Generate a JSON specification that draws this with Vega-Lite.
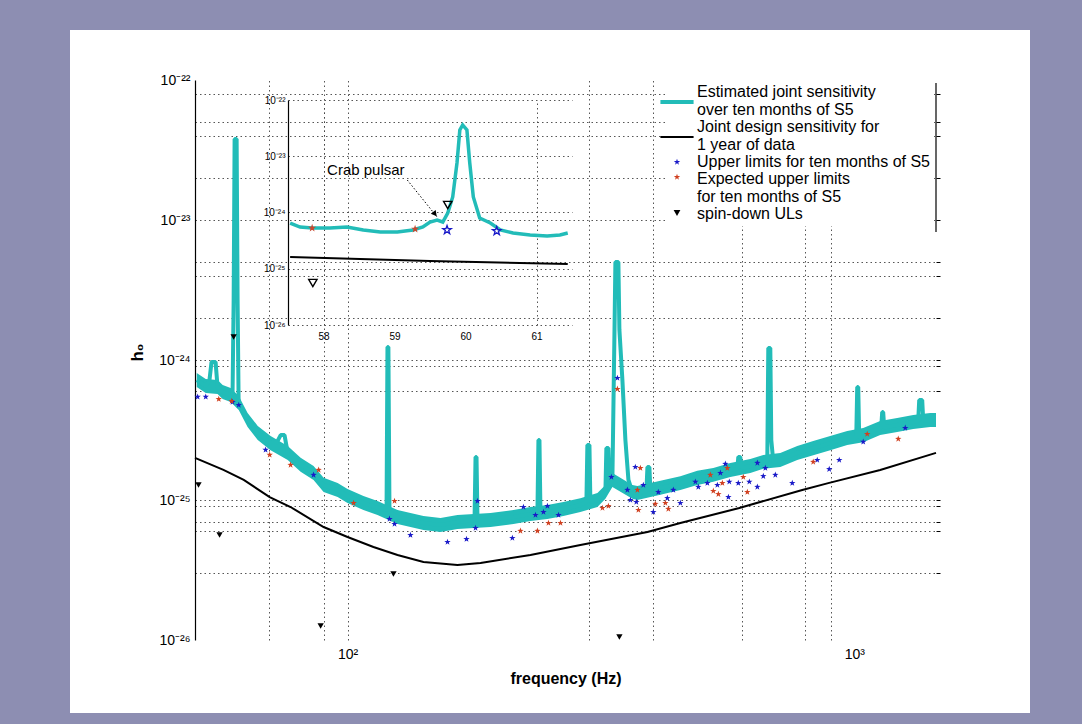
{
  "$schema": "https://vega.github.io/schema/vega-lite/v6.json",
  "width": 960,
  "height": 683,
  "autosize": {"type": "none"},
  "padding": {"left": 70, "top": 30, "right": 52, "bottom": 11},
  "background": "#8d8eb2",
  "config": {
    "view": {"fill": "white", "stroke": null},
    "font": "Liberation Sans",
    "axis": {"labelFont": "Liberation Sans", "titleFont": "Liberation Sans", "labelColor": "#000", "titleColor": "#000", "domainColor": "#000", "tickColor": "#000", "gridColor": "#444", "gridDash": [1.5, 3], "gridWidth": 1},
    "legend": {"labelFont": "Liberation Sans"}
  },
  "datasets": {
    "band": [
      {"f": 50.4, "lo": 6.42e-25, "hi": 8.08e-25},
      {"f": 52.5, "lo": 5.81e-25, "hi": 7.32e-25},
      {"f": 55.4, "lo": 5.71e-25, "hi": 7.19e-25},
      {"f": 56.7, "lo": 5.27e-25, "hi": 6.63e-25},
      {"f": 58.8, "lo": 5.01e-25, "hi": 6.31e-25},
      {"f": 61.0, "lo": 4.39e-25, "hi": 5.53e-25},
      {"f": 63.5, "lo": 3.32e-25, "hi": 4.19e-25},
      {"f": 66.5, "lo": 2.68e-25, "hi": 3.38e-25},
      {"f": 70.5, "lo": 2.27e-25, "hi": 2.86e-25},
      {"f": 76.2, "lo": 1.93e-25, "hi": 2.43e-25},
      {"f": 80.8, "lo": 1.59e-25, "hi": 2.0e-25},
      {"f": 85.7, "lo": 1.39e-25, "hi": 1.75e-25},
      {"f": 89.7, "lo": 1.14e-25, "hi": 1.44e-25},
      {"f": 95.6, "lo": 1.05e-25, "hi": 1.32e-25},
      {"f": 100, "lo": 9.53e-26, "hi": 1.2e-25},
      {"f": 107.5, "lo": 8.48e-26, "hi": 1.07e-25},
      {"f": 114.6, "lo": 7.81e-26, "hi": 9.84e-26},
      {"f": 125.5, "lo": 6.74e-26, "hi": 8.48e-26},
      {"f": 133.1, "lo": 6.42e-26, "hi": 8.08e-26},
      {"f": 141.2, "lo": 6.1e-26, "hi": 7.69e-26},
      {"f": 152.6, "lo": 5.91e-26, "hi": 7.44e-26},
      {"f": 164.8, "lo": 6.21e-26, "hi": 7.82e-26},
      {"f": 191.5, "lo": 6.42e-26, "hi": 8.08e-26},
      {"f": 212.6, "lo": 6.74e-26, "hi": 8.48e-26},
      {"f": 229.6, "lo": 7.08e-26, "hi": 8.91e-26},
      {"f": 248.0, "lo": 7.32e-26, "hi": 9.21e-26},
      {"f": 266.7, "lo": 7.69e-26, "hi": 9.68e-26},
      {"f": 288.1, "lo": 8.21e-26, "hi": 1.03e-25},
      {"f": 311.3, "lo": 8.91e-26, "hi": 1.12e-25},
      {"f": 322.8, "lo": 1.02e-25, "hi": 1.28e-25},
      {"f": 333.2, "lo": 1.24e-25, "hi": 1.56e-25},
      {"f": 364.9, "lo": 1.02e-25, "hi": 1.28e-25},
      {"f": 373.3, "lo": 9.98e-26, "hi": 1.26e-25},
      {"f": 414.4, "lo": 1.09e-25, "hi": 1.37e-25},
      {"f": 453.8, "lo": 1.18e-25, "hi": 1.48e-25},
      {"f": 490.1, "lo": 1.28e-25, "hi": 1.62e-25},
      {"f": 527.1, "lo": 1.35e-25, "hi": 1.69e-25},
      {"f": 569.4, "lo": 1.46e-25, "hi": 1.84e-25},
      {"f": 623.6, "lo": 1.56e-25, "hi": 1.96e-25},
      {"f": 661.5, "lo": 1.67e-25, "hi": 2.1e-25},
      {"f": 714.6, "lo": 1.72e-25, "hi": 2.17e-25},
      {"f": 771.9, "lo": 1.93e-25, "hi": 2.43e-25},
      {"f": 830.0, "lo": 2.09e-25, "hi": 2.64e-25},
      {"f": 896.6, "lo": 2.27e-25, "hi": 2.86e-25},
      {"f": 968.7, "lo": 2.47e-25, "hi": 3.11e-25},
      {"f": 1041.7, "lo": 2.59e-25, "hi": 3.27e-25},
      {"f": 1125.2, "lo": 2.91e-25, "hi": 3.67e-25},
      {"f": 1215.5, "lo": 3.06e-25, "hi": 3.85e-25},
      {"f": 1307.4, "lo": 3.22e-25, "hi": 4.05e-25},
      {"f": 1412.3, "lo": 3.32e-25, "hi": 4.19e-25},
      {"f": 1450, "lo": 3.32e-25, "hi": 4.19e-25}
    ],
    "est": [
      {"f": 50.4, "h": 7.2e-25}, {"f": 52.5, "h": 6.52e-25}, {"f": 53.4, "h": 7.2e-25}, {"f": 53.9, "h": 9.68e-25},
      {"f": 54.9, "h": 9.68e-25}, {"f": 55.4, "h": 6.41e-25}, {"f": 56.7, "h": 5.91e-25}, {"f": 58.8, "h": 5.62e-25},
      {"f": 59.3, "h": 5.62e-25}, {"f": 59.6, "h": 2.68e-24}, {"f": 59.86, "h": 3.79e-23}, {"f": 60.41, "h": 3.79e-23},
      {"f": 60.68, "h": 2.68e-24}, {"f": 60.96, "h": 4.93e-25}, {"f": 63.5, "h": 3.73e-25}, {"f": 66.5, "h": 3.01e-25},
      {"f": 70.5, "h": 2.55e-25}, {"f": 72.4, "h": 2.55e-25}, {"f": 73.8, "h": 2.91e-25}, {"f": 75.1, "h": 2.91e-25},
      {"f": 76.2, "h": 2.17e-25}, {"f": 80.8, "h": 1.78e-25}, {"f": 85.7, "h": 1.56e-25}, {"f": 89.7, "h": 1.28e-25},
      {"f": 95.6, "h": 1.18e-25}, {"f": 100, "h": 1.07e-25}, {"f": 107.5, "h": 9.52e-26}, {"f": 114.6, "h": 8.77e-26},
      {"f": 119.4, "h": 8.48e-26}, {"f": 119.9, "h": 1.24e-24}, {"f": 120.4, "h": 1.24e-24}, {"f": 121.0, "h": 8.21e-26},
      {"f": 125.5, "h": 7.56e-26}, {"f": 133.1, "h": 7.2e-26}, {"f": 141.2, "h": 6.85e-26}, {"f": 152.6, "h": 6.63e-26},
      {"f": 164.8, "h": 6.97e-26}, {"f": 178.1, "h": 7.2e-26}, {"f": 178.9, "h": 2.03e-25}, {"f": 179.7, "h": 2.03e-25},
      {"f": 180.5, "h": 7.2e-26}, {"f": 191.5, "h": 7.2e-26}, {"f": 200.4, "h": 7.44e-26}, {"f": 212.6, "h": 7.56e-26},
      {"f": 229.6, "h": 7.94e-26}, {"f": 237.0, "h": 7.94e-26}, {"f": 238.1, "h": 2.68e-25}, {"f": 239.2, "h": 2.68e-25},
      {"f": 240.3, "h": 8.08e-26}, {"f": 248.0, "h": 8.21e-26}, {"f": 266.7, "h": 8.63e-26}, {"f": 288.1, "h": 9.21e-26},
      {"f": 296.1, "h": 9.68e-26}, {"f": 297.4, "h": 2.47e-25}, {"f": 300.2, "h": 2.47e-25}, {"f": 301.5, "h": 9.68e-26},
      {"f": 311.3, "h": 1.0e-25}, {"f": 322.8, "h": 1.14e-25}, {"f": 324.2, "h": 2.35e-25}, {"f": 327.2, "h": 2.35e-25},
      {"f": 328.7, "h": 1.28e-25}, {"f": 333.2, "h": 1.39e-25}, {"f": 336.2, "h": 1.39e-24}, {"f": 337.8, "h": 5.01e-24},
      {"f": 342.4, "h": 5.01e-24}, {"f": 344.0, "h": 1.64e-24}, {"f": 348.7, "h": 7.2e-25}, {"f": 353.5, "h": 2.68e-25},
      {"f": 358.4, "h": 1.39e-25}, {"f": 364.9, "h": 1.14e-25}, {"f": 373.3, "h": 1.12e-25}, {"f": 388.9, "h": 1.16e-25},
      {"f": 390.7, "h": 1.72e-25}, {"f": 394.2, "h": 1.72e-25}, {"f": 396.0, "h": 1.18e-25}, {"f": 414.4, "h": 1.22e-25},
      {"f": 453.8, "h": 1.32e-25}, {"f": 490.1, "h": 1.44e-25}, {"f": 527.1, "h": 1.51e-25}, {"f": 569.4, "h": 1.64e-25},
      {"f": 587.8, "h": 1.67e-25}, {"f": 590.5, "h": 2.03e-25}, {"f": 595.9, "h": 2.03e-25}, {"f": 598.6, "h": 1.69e-25},
      {"f": 623.6, "h": 1.75e-25}, {"f": 661.5, "h": 1.87e-25}, {"f": 673.6, "h": 1.9e-25}, {"f": 676.7, "h": 1.22e-24},
      {"f": 682.9, "h": 1.22e-24}, {"f": 686.0, "h": 2.68e-25}, {"f": 692.3, "h": 1.87e-25}, {"f": 714.6, "h": 1.93e-25},
      {"f": 771.9, "h": 2.17e-25}, {"f": 830.0, "h": 2.35e-25}, {"f": 896.6, "h": 2.55e-25}, {"f": 968.7, "h": 2.77e-25},
      {"f": 1009.1, "h": 2.77e-25}, {"f": 1013.7, "h": 6.41e-25}, {"f": 1018.3, "h": 6.41e-25}, {"f": 1022.9, "h": 2.77e-25},
      {"f": 1041.7, "h": 2.91e-25}, {"f": 1125.2, "h": 3.27e-25}, {"f": 1130.3, "h": 3.27e-25}, {"f": 1135.5, "h": 4.25e-25},
      {"f": 1140.6, "h": 4.25e-25}, {"f": 1145.9, "h": 3.3e-25}, {"f": 1215.5, "h": 3.43e-25}, {"f": 1307.4, "h": 3.61e-25},
      {"f": 1337.4, "h": 3.66e-25}, {"f": 1343.5, "h": 5.18e-25}, {"f": 1361.9, "h": 5.18e-25}, {"f": 1368.1, "h": 3.7e-25},
      {"f": 1412.3, "h": 3.73e-25}, {"f": 1450, "h": 3.73e-25}
    ],
    "design": [
      {"f": 50, "h": 2.0e-25}, {"f": 56.9, "h": 1.64e-25}, {"f": 62.4, "h": 1.39e-25}, {"f": 70.2, "h": 1.05e-25},
      {"f": 77.2, "h": 8.91e-26}, {"f": 89.7, "h": 6.41e-26}, {"f": 100, "h": 5.44e-26}, {"f": 112.5, "h": 4.62e-26},
      {"f": 125.5, "h": 4.05e-26}, {"f": 141.2, "h": 3.61e-26}, {"f": 164.8, "h": 3.43e-26}, {"f": 183.0, "h": 3.55e-26},
      {"f": 229.6, "h": 4.05e-26}, {"f": 288.1, "h": 4.77e-26}, {"f": 390.7, "h": 5.91e-26}, {"f": 453.8, "h": 6.85e-26},
      {"f": 593.2, "h": 8.77e-26}, {"f": 789.6, "h": 1.18e-25}, {"f": 888.6, "h": 1.32e-25}, {"f": 1125.2, "h": 1.64e-25},
      {"f": 1450, "h": 2.17e-25}
    ],
    "upper": [
      {"f": 50.6, "h": 5.45e-25}, {"f": 52.5, "h": 5.45e-25}, {"f": 59.3, "h": 5.01e-25}, {"f": 61.0, "h": 4.77e-25},
      {"f": 68.9, "h": 2.28e-25}, {"f": 85.7, "h": 1.51e-25}, {"f": 121.0, "h": 7.32e-26}, {"f": 123.8, "h": 6.74e-26},
      {"f": 133.1, "h": 5.62e-26}, {"f": 157.5, "h": 5.01e-26}, {"f": 171.7, "h": 5.26e-26}, {"f": 178.9, "h": 6.31e-26},
      {"f": 180.5, "h": 9.84e-26}, {"f": 211.5, "h": 5.35e-26}, {"f": 222.4, "h": 8.91e-26}, {"f": 234.9, "h": 7.81e-26},
      {"f": 243.6, "h": 8.21e-26}, {"f": 248.0, "h": 9.06e-26}, {"f": 260.8, "h": 7.81e-26}, {"f": 331.7, "h": 1.46e-25},
      {"f": 340.9, "h": 7.44e-25}, {"f": 356.7, "h": 1.18e-25}, {"f": 361.6, "h": 1.0e-25}, {"f": 369.8, "h": 1.72e-25},
      {"f": 371.5, "h": 9.68e-26}, {"f": 383.5, "h": 1.28e-25}, {"f": 401.3, "h": 8.21e-26}, {"f": 410.5, "h": 1.14e-25},
      {"f": 427.7, "h": 1.03e-25}, {"f": 439.5, "h": 1.18e-25}, {"f": 453.8, "h": 9.52e-26}, {"f": 485.8, "h": 1.35e-25},
      {"f": 492.4, "h": 1.24e-25}, {"f": 513.0, "h": 1.32e-25}, {"f": 536.9, "h": 1.28e-25}, {"f": 544.3, "h": 1.56e-25},
      {"f": 556.8, "h": 1.81e-25}, {"f": 564.5, "h": 1.05e-25}, {"f": 566.8, "h": 1.35e-25}, {"f": 590.5, "h": 1.32e-25},
      {"f": 620.8, "h": 1.35e-25}, {"f": 643.9, "h": 1.84e-25}, {"f": 643.9, "h": 1.24e-25}, {"f": 661.5, "h": 1.48e-25},
      {"f": 667.7, "h": 1.69e-25}, {"f": 698.7, "h": 1.51e-25}, {"f": 754.6, "h": 1.32e-25}, {"f": 845.3, "h": 1.93e-25},
      {"f": 892.6, "h": 1.66e-25}, {"f": 934.1, "h": 1.93e-25}, {"f": 1041.7, "h": 2.6e-25}, {"f": 1260.9, "h": 3.27e-25}
    ],
    "expected": [
      {"f": 55.7, "h": 5.26e-25}, {"f": 59.06, "h": 5.09e-25}, {"f": 70.2, "h": 2.1e-25}, {"f": 77.2, "h": 1.78e-25},
      {"f": 87.7, "h": 1.64e-25}, {"f": 102.8, "h": 9.52e-26}, {"f": 123.8, "h": 9.84e-26}, {"f": 219.4, "h": 6.01e-26},
      {"f": 237.0, "h": 6.01e-26}, {"f": 249.2, "h": 6.85e-26}, {"f": 263.2, "h": 6.85e-26}, {"f": 318.5, "h": 8.77e-26},
      {"f": 327.2, "h": 9.06e-26}, {"f": 340.9, "h": 6.21e-25}, {"f": 373.3, "h": 1.18e-25}, {"f": 375.0, "h": 8.48e-26},
      {"f": 378.4, "h": 1.69e-25}, {"f": 405.0, "h": 9.37e-26}, {"f": 423.9, "h": 9.52e-26}, {"f": 429.7, "h": 8.63e-26},
      {"f": 520.0, "h": 1.51e-25}, {"f": 527.1, "h": 1.16e-25}, {"f": 539.4, "h": 1.1e-25}, {"f": 549.2, "h": 1.32e-25},
      {"f": 561.7, "h": 1.69e-25}, {"f": 604.0, "h": 1.46e-25}, {"f": 615.2, "h": 1.14e-25}, {"f": 830.0, "h": 1.87e-25},
      {"f": 1060.7, "h": 2.96e-25}, {"f": 1221.5, "h": 2.73e-25}
    ],
    "spindown": [
      {"f": 59.6, "h": 1.46e-24}, {"f": 50.8, "h": 1.28e-25}, {"f": 55.9, "h": 5.62e-26},
      {"f": 123.2, "h": 2.96e-26}, {"f": 88.5, "h": 1.26e-26}, {"f": 344.0, "h": 1.05e-26}
    ],
    "legend_edge": [{"f": 1450, "top": 9.5e-23, "bottom": 8.2e-24}],
    "inset_est": [
      {"f": 57.53, "h": 6.5e-25}, {"f": 57.67, "h": 5.52e-25}, {"f": 57.84, "h": 5.3e-25}, {"f": 58.09, "h": 5.3e-25},
      {"f": 58.33, "h": 5.52e-25}, {"f": 58.56, "h": 4.89e-25}, {"f": 58.8, "h": 4.5e-25}, {"f": 59.04, "h": 4.5e-25},
      {"f": 59.26, "h": 4.89e-25}, {"f": 59.4, "h": 5.52e-25}, {"f": 59.5, "h": 6.78e-25}, {"f": 59.6, "h": 7.36e-25},
      {"f": 59.68, "h": 6.78e-25}, {"f": 59.75, "h": 9.8e-25}, {"f": 59.82, "h": 1.89e-24}, {"f": 59.88, "h": 7.59e-24},
      {"f": 59.92, "h": 2.93e-23}, {"f": 59.96, "h": 3.6e-23}, {"f": 60.02, "h": 2.93e-23}, {"f": 60.06, "h": 7.59e-24},
      {"f": 60.11, "h": 1.89e-24}, {"f": 60.2, "h": 7.98e-25}, {"f": 60.35, "h": 6.5e-25}, {"f": 60.49, "h": 4.89e-25},
      {"f": 60.67, "h": 4.33e-25}, {"f": 60.91, "h": 3.98e-25}, {"f": 61.15, "h": 3.82e-25}, {"f": 61.33, "h": 3.98e-25},
      {"f": 61.44, "h": 4.33e-25}
    ],
    "inset_design": [{"f": 57.53, "h": 1.62e-25}, {"f": 59.5, "h": 1.37e-25}, {"f": 61.44, "h": 1.21e-25}],
    "inset_expected": [{"f": 57.84, "h": 5.3e-25}, {"f": 59.29, "h": 5.09e-25}],
    "inset_upper": [{"f": 59.74, "h": 4.89e-25}, {"f": 60.44, "h": 4.69e-25}],
    "inset_spindown": [{"f": 59.75, "h": 1.36e-24}, {"f": 57.85, "h": 5.58e-26}],
    "crab_arrow": [{"f": 59.18, "h": 3.78e-24, "f2": 59.6, "h2": 8.3e-25}],
    "crab_head": [{"f": 59.57, "h": 9.4e-25}],
    "crab_label": [{"f": 58.05, "h": 5.7e-24, "label": "Crab pulsar"}]
  },
  "layer": [
    {
      "layer": [
        {
          "data": {"name": "band"},
          "mark": {"type": "area"},
          "encoding": {
            "x": {"field": "f", "type": "quantitative",
              "scale": {"type": "log", "domain": [50, 1450], "range": [125, 866], "nice": false},
              "axis": {"orient": "bottom", "offset": -73, "values": [100, 1000], "labelExpr": "datum.value == 100 ? '10²' : '10³'", "grid": false, "domain": false, "ticks": false, "labelFontSize": 14, "labelPadding": 7, "labelOverlap": false, "labelFlush": false, "title": "frequency (Hz)", "titleFontSize": 16, "titleFontWeight": "bold", "titleY": 30}},
            "y": {"field": "lo", "type": "quantitative",
              "scale": {"type": "log", "domain": [1e-26, 1e-22], "range": [610, 50], "nice": false},
              "axis": {"orient": "left", "offset": -125,
                "values": [1e-22, 8e-23, 5e-23, 4e-23, 2e-23, 1e-23, 5e-24, 4e-24, 2e-24, 1e-24, 9e-25, 6e-25, 1e-25, 9e-26, 7e-26, 6e-26, 3e-26, 1e-26],
                "labelExpr": "datum.value == 1e-22 ? '10⁻²²' : datum.value == 1e-23 ? '10⁻²³' : datum.value == 1e-24 ? '10⁻²⁴' : datum.value == 1e-25 ? '10⁻²⁵' : datum.value == 1e-26 ? '10⁻²⁶' : ''",
                "grid": true, "gridOpacity": {"condition": {"test": "datum.value == 1e-22 || datum.value == 1e-26", "value": 0}, "value": 0.9},
                "domain": true, "domainWidth": 1.2, "ticks": false, "labelFontSize": 14, "labelPadding": 5, "labelOverlap": false, "labelFlush": false,
                "title": "h₀", "titleFontSize": 17, "titleFontWeight": "bold", "titleX": -58, "titleY": 322, "titleAngle": -90, "titleBaseline": "middle", "titleAlign": "center"}},
            "y2": {"field": "hi"},
            "color": {"datum": "estimated", "type": "nominal",
              "scale": {"domain": ["estimated", "design", "upper", "expected", "spindown"], "range": ["#22bcb8", "#000000", "#1a1ac8", "#d04020", "#000000"]},
              "legend": {
                "orient": "none", "legendX": 595, "legendY": 50, "title": null, "direction": "vertical",
                "fillColor": "white", "padding": 4, "symbolSize": 1100, "labelFontSize": 16, "labelColor": "#000", "labelOffset": 12, "rowPadding": 1, "labelLimit": 500,
                "labelExpr": "datum.value == 'estimated' ? ['Estimated joint sensitivity', 'over ten months of S5'] : datum.value == 'design' ? ['Joint design sensitivity for', '1 year of data'] : datum.value == 'upper' ? 'Upper limits for ten months of S5' : datum.value == 'expected' ? ['Expected upper limits', 'for ten months of S5'] : 'spin-down ULs'",
                "encode": {
                  "symbols": {"update": {
                    "shape": {"signal": "datum.value == 'estimated' || datum.value == 'design' ? 'stroke' : datum.value == 'spindown' ? 'triangle-down' : 'M0,-1L0.235,-0.324L0.951,-0.309L0.38,0.124L0.588,0.809L0,0.4L-0.588,0.809L-0.38,0.124L-0.951,-0.309L-0.235,-0.324Z'"},
                    "size": {"signal": "datum.value == 'estimated' || datum.value == 'design' ? 1100 : 45"},
                    "strokeWidth": {"signal": "datum.value == 'estimated' ? 4 : datum.value == 'design' ? 2 : 0"},
                    "fill": {"signal": "datum.value == 'upper' ? '#1a1ac8' : datum.value == 'expected' ? '#d04020' : datum.value == 'spindown' ? '#000000' : 'transparent'"},
                    "stroke": {"signal": "datum.value == 'estimated' ? '#22bcb8' : '#000000'"},
                    "y": {"signal": "datum.value == 'estimated' || datum.value == 'design' ? 18 : datum.value == 'expected' ? 6 : datum.value == 'spindown' ? 7 : 8"},
                    "opacity": {"value": 1}
                  }}
                }
              }}
          }
        },
        {
          "data": {"name": "est"},
          "mark": {"type": "line", "strokeWidth": 4, "strokeJoin": "bevel"},
          "encoding": {
            "x": {"field": "f", "type": "quantitative",
              "scale": {"type": "log", "domain": [50, 1450], "range": [125, 866], "nice": false},
              "axis": {"orient": "top", "offset": -50, "values": [70, 90, 100, 300, 400, 600, 800, 900], "labels": false, "ticks": false, "domain": false, "grid": true, "gridOpacity": 0.9, "title": null}},
            "y": {"field": "h", "type": "quantitative",
              "scale": {"type": "log", "domain": [1e-26, 1e-22], "range": [610, 50], "nice": false},
              "axis": {"orient": "right", "offset": -94, "values": [8e-23, 5e-23, 4e-23, 2e-23, 1e-23, 5e-24, 4e-24, 2e-24, 1e-24, 9e-25, 6e-25, 1e-25, 9e-26, 7e-26, 6e-26, 3e-26], "labels": false, "grid": false, "domain": false, "ticks": true, "tickSize": 4, "title": null}},
            "color": {"datum": "estimated", "type": "nominal"}
          }
        },
        {
          "data": {"name": "legend_edge"},
          "mark": {"type": "rule", "color": "#000000", "strokeWidth": 1.2},
          "encoding": {
            "x": {"field": "f", "type": "quantitative", "scale": {"type": "log", "domain": [50, 1450], "range": [125, 866], "nice": false}, "axis": null},
            "y": {"field": "top", "type": "quantitative", "scale": {"type": "log", "domain": [1e-26, 1e-22], "range": [610, 50], "nice": false}, "axis": null},
            "y2": {"field": "bottom"}
          }
        },
        {
          "data": {"name": "design"},
          "mark": {"type": "line", "strokeWidth": 2},
          "encoding": {
            "x": {"field": "f", "type": "quantitative", "scale": {"type": "log", "domain": [50, 1450], "range": [125, 866], "nice": false}, "axis": null},
            "y": {"field": "h", "type": "quantitative", "scale": {"type": "log", "domain": [1e-26, 1e-22], "range": [610, 50], "nice": false}, "axis": null},
            "color": {"datum": "design", "type": "nominal"}
          }
        },
        {
          "data": {"name": "upper"},
          "mark": {"type": "point", "filled": true, "opacity": 1, "size": 45, "shape": "M0,-1L0.235,-0.324L0.951,-0.309L0.38,0.124L0.588,0.809L0,0.4L-0.588,0.809L-0.38,0.124L-0.951,-0.309L-0.235,-0.324Z"},
          "encoding": {
            "x": {"field": "f", "type": "quantitative", "scale": {"type": "log", "domain": [50, 1450], "range": [125, 866], "nice": false}, "axis": null},
            "y": {"field": "h", "type": "quantitative", "scale": {"type": "log", "domain": [1e-26, 1e-22], "range": [610, 50], "nice": false}, "axis": null},
            "color": {"datum": "upper", "type": "nominal"}
          }
        },
        {
          "data": {"name": "expected"},
          "mark": {"type": "point", "filled": true, "opacity": 1, "size": 45, "shape": "M0,-1L0.235,-0.324L0.951,-0.309L0.38,0.124L0.588,0.809L0,0.4L-0.588,0.809L-0.38,0.124L-0.951,-0.309L-0.235,-0.324Z"},
          "encoding": {
            "x": {"field": "f", "type": "quantitative", "scale": {"type": "log", "domain": [50, 1450], "range": [125, 866], "nice": false}, "axis": null},
            "y": {"field": "h", "type": "quantitative", "scale": {"type": "log", "domain": [1e-26, 1e-22], "range": [610, 50], "nice": false}, "axis": null},
            "color": {"datum": "expected", "type": "nominal"}
          }
        },
        {
          "data": {"name": "spindown"},
          "mark": {"type": "point", "filled": true, "opacity": 1, "size": 40, "shape": "triangle-down"},
          "encoding": {
            "x": {"field": "f", "type": "quantitative", "scale": {"type": "log", "domain": [50, 1450], "range": [125, 866], "nice": false}, "axis": null},
            "y": {"field": "h", "type": "quantitative", "scale": {"type": "log", "domain": [1e-26, 1e-22], "range": [610, 50], "nice": false}, "axis": null},
            "color": {"datum": "spindown", "type": "nominal"}
          }
        }
      ],
      "resolve": {"axis": {"x": "independent", "y": "independent"}}
    },
    {
      "layer": [
        {
          "data": {"name": "inset_est"},
          "mark": {"type": "line", "strokeWidth": 3.5, "color": "#22bcb8"},
          "encoding": {
            "x": {"field": "f", "type": "quantitative",
              "scale": {"type": "linear", "domain": [57.5, 61.5], "range": [218, 502], "nice": false, "zero": false},
              "axis": {"orient": "bottom", "offset": -388, "values": [58, 59, 60, 61], "format": "d", "grid": false, "domain": false, "ticks": false, "labelFontSize": 10, "labelPadding": 6, "labelOverlap": false, "title": null}},
            "y": {"field": "h", "type": "quantitative",
              "scale": {"type": "log", "domain": [1e-26, 1e-22], "range": [295, 70], "nice": false},
              "axis": {"orient": "left", "offset": -218, "values": [1e-22, 1e-23, 1e-24, 1e-25, 1e-26],
                "labelExpr": "datum.value == 1e-22 ? '10⁻²²' : datum.value == 1e-23 ? '10⁻²³' : datum.value == 1e-24 ? '10⁻²⁴' : datum.value == 1e-25 ? '10⁻²⁵' : '10⁻²⁶'",
                "grid": true, "gridOpacity": 0.9, "domain": true, "domainWidth": 1.2, "ticks": false, "labelFontSize": 10, "labelPadding": 3, "labelOverlap": false, "labelFlush": false, "title": null}}
          }
        },
        {
          "data": {"name": "inset_design"},
          "mark": {"type": "line", "strokeWidth": 2, "color": "#000000"},
          "encoding": {
            "x": {"field": "f", "type": "quantitative",
              "scale": {"type": "linear", "domain": [57.5, 61.5], "range": [218, 502], "nice": false, "zero": false},
              "axis": {"orient": "top", "offset": -70, "values": [58, 59, 60, 61], "labels": false, "ticks": false, "domain": false, "grid": true, "gridOpacity": {"condition": {"test": "datum.value == 59 || datum.value == 60", "value": 0}, "value": 0.9}, "title": null}},
            "y": {"field": "h", "type": "quantitative", "scale": {"type": "log", "domain": [1e-26, 1e-22], "range": [295, 70], "nice": false}, "axis": null}
          }
        },
        {
          "data": {"name": "inset_expected"},
          "mark": {"type": "point", "filled": true, "opacity": 1, "size": 70, "color": "#c84830", "shape": "M0,-1L0.235,-0.324L0.951,-0.309L0.38,0.124L0.588,0.809L0,0.4L-0.588,0.809L-0.38,0.124L-0.951,-0.309L-0.235,-0.324Z"},
          "encoding": {
            "x": {"field": "f", "type": "quantitative", "scale": {"type": "linear", "domain": [57.5, 61.5], "range": [218, 502], "nice": false, "zero": false}, "axis": null},
            "y": {"field": "h", "type": "quantitative", "scale": {"type": "log", "domain": [1e-26, 1e-22], "range": [295, 70], "nice": false}, "axis": null}
          }
        },
        {
          "data": {"name": "inset_upper"},
          "mark": {"type": "point", "filled": false, "opacity": 1, "size": 80, "strokeWidth": 1.3, "color": "#1a1ac8", "shape": "M0,-1L0.235,-0.324L0.951,-0.309L0.38,0.124L0.588,0.809L0,0.4L-0.588,0.809L-0.38,0.124L-0.951,-0.309L-0.235,-0.324Z"},
          "encoding": {
            "x": {"field": "f", "type": "quantitative", "scale": {"type": "linear", "domain": [57.5, 61.5], "range": [218, 502], "nice": false, "zero": false}, "axis": null},
            "y": {"field": "h", "type": "quantitative", "scale": {"type": "log", "domain": [1e-26, 1e-22], "range": [295, 70], "nice": false}, "axis": null}
          }
        },
        {
          "data": {"name": "inset_spindown"},
          "mark": {"type": "point", "filled": false, "opacity": 1, "size": 70, "strokeWidth": 1.4, "color": "#000000", "shape": "triangle-down"},
          "encoding": {
            "x": {"field": "f", "type": "quantitative", "scale": {"type": "linear", "domain": [57.5, 61.5], "range": [218, 502], "nice": false, "zero": false}, "axis": null},
            "y": {"field": "h", "type": "quantitative", "scale": {"type": "log", "domain": [1e-26, 1e-22], "range": [295, 70], "nice": false}, "axis": null}
          }
        },
        {
          "data": {"name": "crab_arrow"},
          "mark": {"type": "rule", "strokeDash": [1.5, 2], "color": "#000000", "strokeWidth": 1},
          "encoding": {
            "x": {"field": "f", "type": "quantitative", "scale": {"type": "linear", "domain": [57.5, 61.5], "range": [218, 502], "nice": false, "zero": false}, "axis": null},
            "y": {"field": "h", "type": "quantitative", "scale": {"type": "log", "domain": [1e-26, 1e-22], "range": [295, 70], "nice": false}, "axis": null},
            "x2": {"field": "f2"},
            "y2": {"field": "h2"}
          }
        },
        {
          "data": {"name": "crab_head"},
          "mark": {"type": "point", "filled": true, "opacity": 1, "size": 40, "color": "#000000", "shape": "triangle-up", "angle": 141},
          "encoding": {
            "x": {"field": "f", "type": "quantitative", "scale": {"type": "linear", "domain": [57.5, 61.5], "range": [218, 502], "nice": false, "zero": false}, "axis": null},
            "y": {"field": "h", "type": "quantitative", "scale": {"type": "log", "domain": [1e-26, 1e-22], "range": [295, 70], "nice": false}, "axis": null}
          }
        },
        {
          "data": {"name": "crab_label"},
          "mark": {"type": "text", "align": "left", "baseline": "middle", "fontSize": 15, "color": "#000000", "font": "Liberation Sans"},
          "encoding": {
            "x": {"field": "f", "type": "quantitative", "scale": {"type": "linear", "domain": [57.5, 61.5], "range": [218, 502], "nice": false, "zero": false}, "axis": null},
            "y": {"field": "h", "type": "quantitative", "scale": {"type": "log", "domain": [1e-26, 1e-22], "range": [295, 70], "nice": false}, "axis": null},
            "text": {"field": "label"}
          }
        }
      ],
      "resolve": {"axis": {"x": "independent", "y": "independent"}}
    }
  ],
  "resolve": {"scale": {"x": "independent", "y": "independent"}, "axis": {"x": "independent", "y": "independent"}}
}
